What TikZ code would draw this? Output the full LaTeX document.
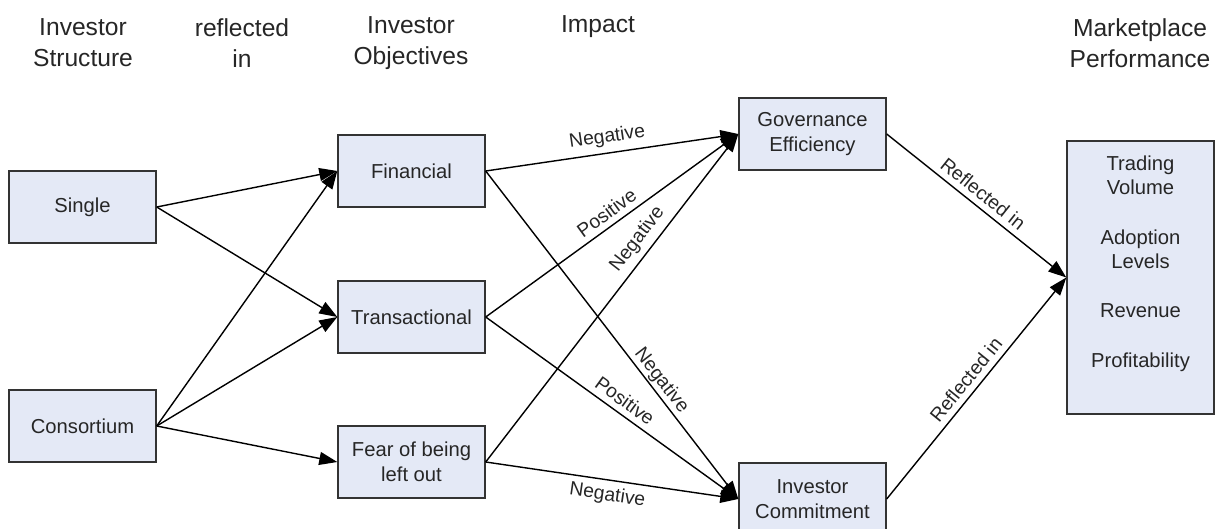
\documentclass[tikz,border=0pt]{standalone}
\usepackage{fontspec}
\setsansfont{Liberation Sans}
\usetikzlibrary{arrows.meta}
\definecolor{boxblue}{HTML}{E4E9F6}

\begin{document}
\begin{tikzpicture}[font=\sffamily,
   box/.style={draw=black!80, line width=0.8pt, fill=boxblue, minimum width=2.94cm,
      minimum height=1.44cm, align=center, text=black!85,
      font=\sffamily\fontsize{11.5}{14}\selectfont},
   head/.style={align=center, text=black!85, font=\sffamily\fontsize{14}{17.6}\selectfont},
   edge/.style={line width=0.8pt, -{Triangle[length=0.36cm, width=0.26cm]}},
   lbl/.style={sloped, text=black!85, font=\sffamily\fontsize{11}{13}\selectfont}]
      \useasboundingbox (0, 0) rectangle (24.36, 10.56);

      % column headings
      \node[head] (hstructure) at (1.66, 9.7) {Investor\\Structure};
      \node[head] (hreflected) at (4.84, 9.7) {reflected\\in};
      \node[head] (hobjectives) at (8.22, 9.7) {Investor\\Objectives};
      \node[head] (himpact) at (11.96, 10.02) {Impact};
      \node[head] (hmarket) at (22.8, 9.7) {Marketplace\\Performance};

      % boxes
      \node[box] (single) at (1.65, 6.42) {Single};
      \node[box] (consortium) at (1.65, 2.04) {Consortium};
      \node[box] (financial) at (8.23, 7.14) {Financial};
      \node[box] (transactional) at (8.23, 4.22) {Transactional};
      \node[box] (fear) at (8.23, 1.32) {Fear of being\\left out};
      \node[box] (governance) at (16.25, 7.88) {Governance\\Efficiency};
      \node[box] (commitment) at (16.25, 0.58) {Investor\\Commitment};
      \node[box, minimum height=5.46cm] (market) at (22.81, 5.01) {};
      \node[align=center, text=black!85, font=\sffamily\fontsize{11.5}{14}\selectfont]
         (marketlist) at (22.81, 5.29)
         {Trading\\Volume\\[14pt]Adoption\\Levels\\[14pt]Revenue\\[14pt]Profitability};

      \draw[edge] (single.east) -- (financial.west);
      \draw[edge] (single.east) -- (transactional.west);
      \draw[edge] (consortium.east) -- (financial.west);
      \draw[edge] (consortium.east) -- (transactional.west);
      \draw[edge] (consortium.east) -- (fear.west);

      \draw[edge] (financial.east) -- node[lbl, above, pos=0.49] {Negative} (governance.west);
      \draw[edge] (financial.east) -- node[lbl, above=-2.5pt, pos=0.66] {Negative} (commitment.west);
      \draw[edge] (transactional.east) -- node[lbl, above, pos=0.51] {Positive} (governance.west);
      \draw[edge] (transactional.east) -- node[lbl, above, pos=0.52] {Positive} (commitment.west);
      \draw[edge] (fear.east) -- node[lbl, above, pos=0.65] {Negative} (governance.west);
      \draw[edge] (fear.east) -- node[lbl, below, pos=0.49] {Negative} (commitment.west);

      \draw[edge] (governance.east) -- node[lbl, above, pos=0.49] {Reflected in} (market.west);
      \draw[edge] (commitment.east) -- node[lbl, above, pos=0.5] {Reflected in} (market.west);

   \end{tikzpicture}
\end{document}
